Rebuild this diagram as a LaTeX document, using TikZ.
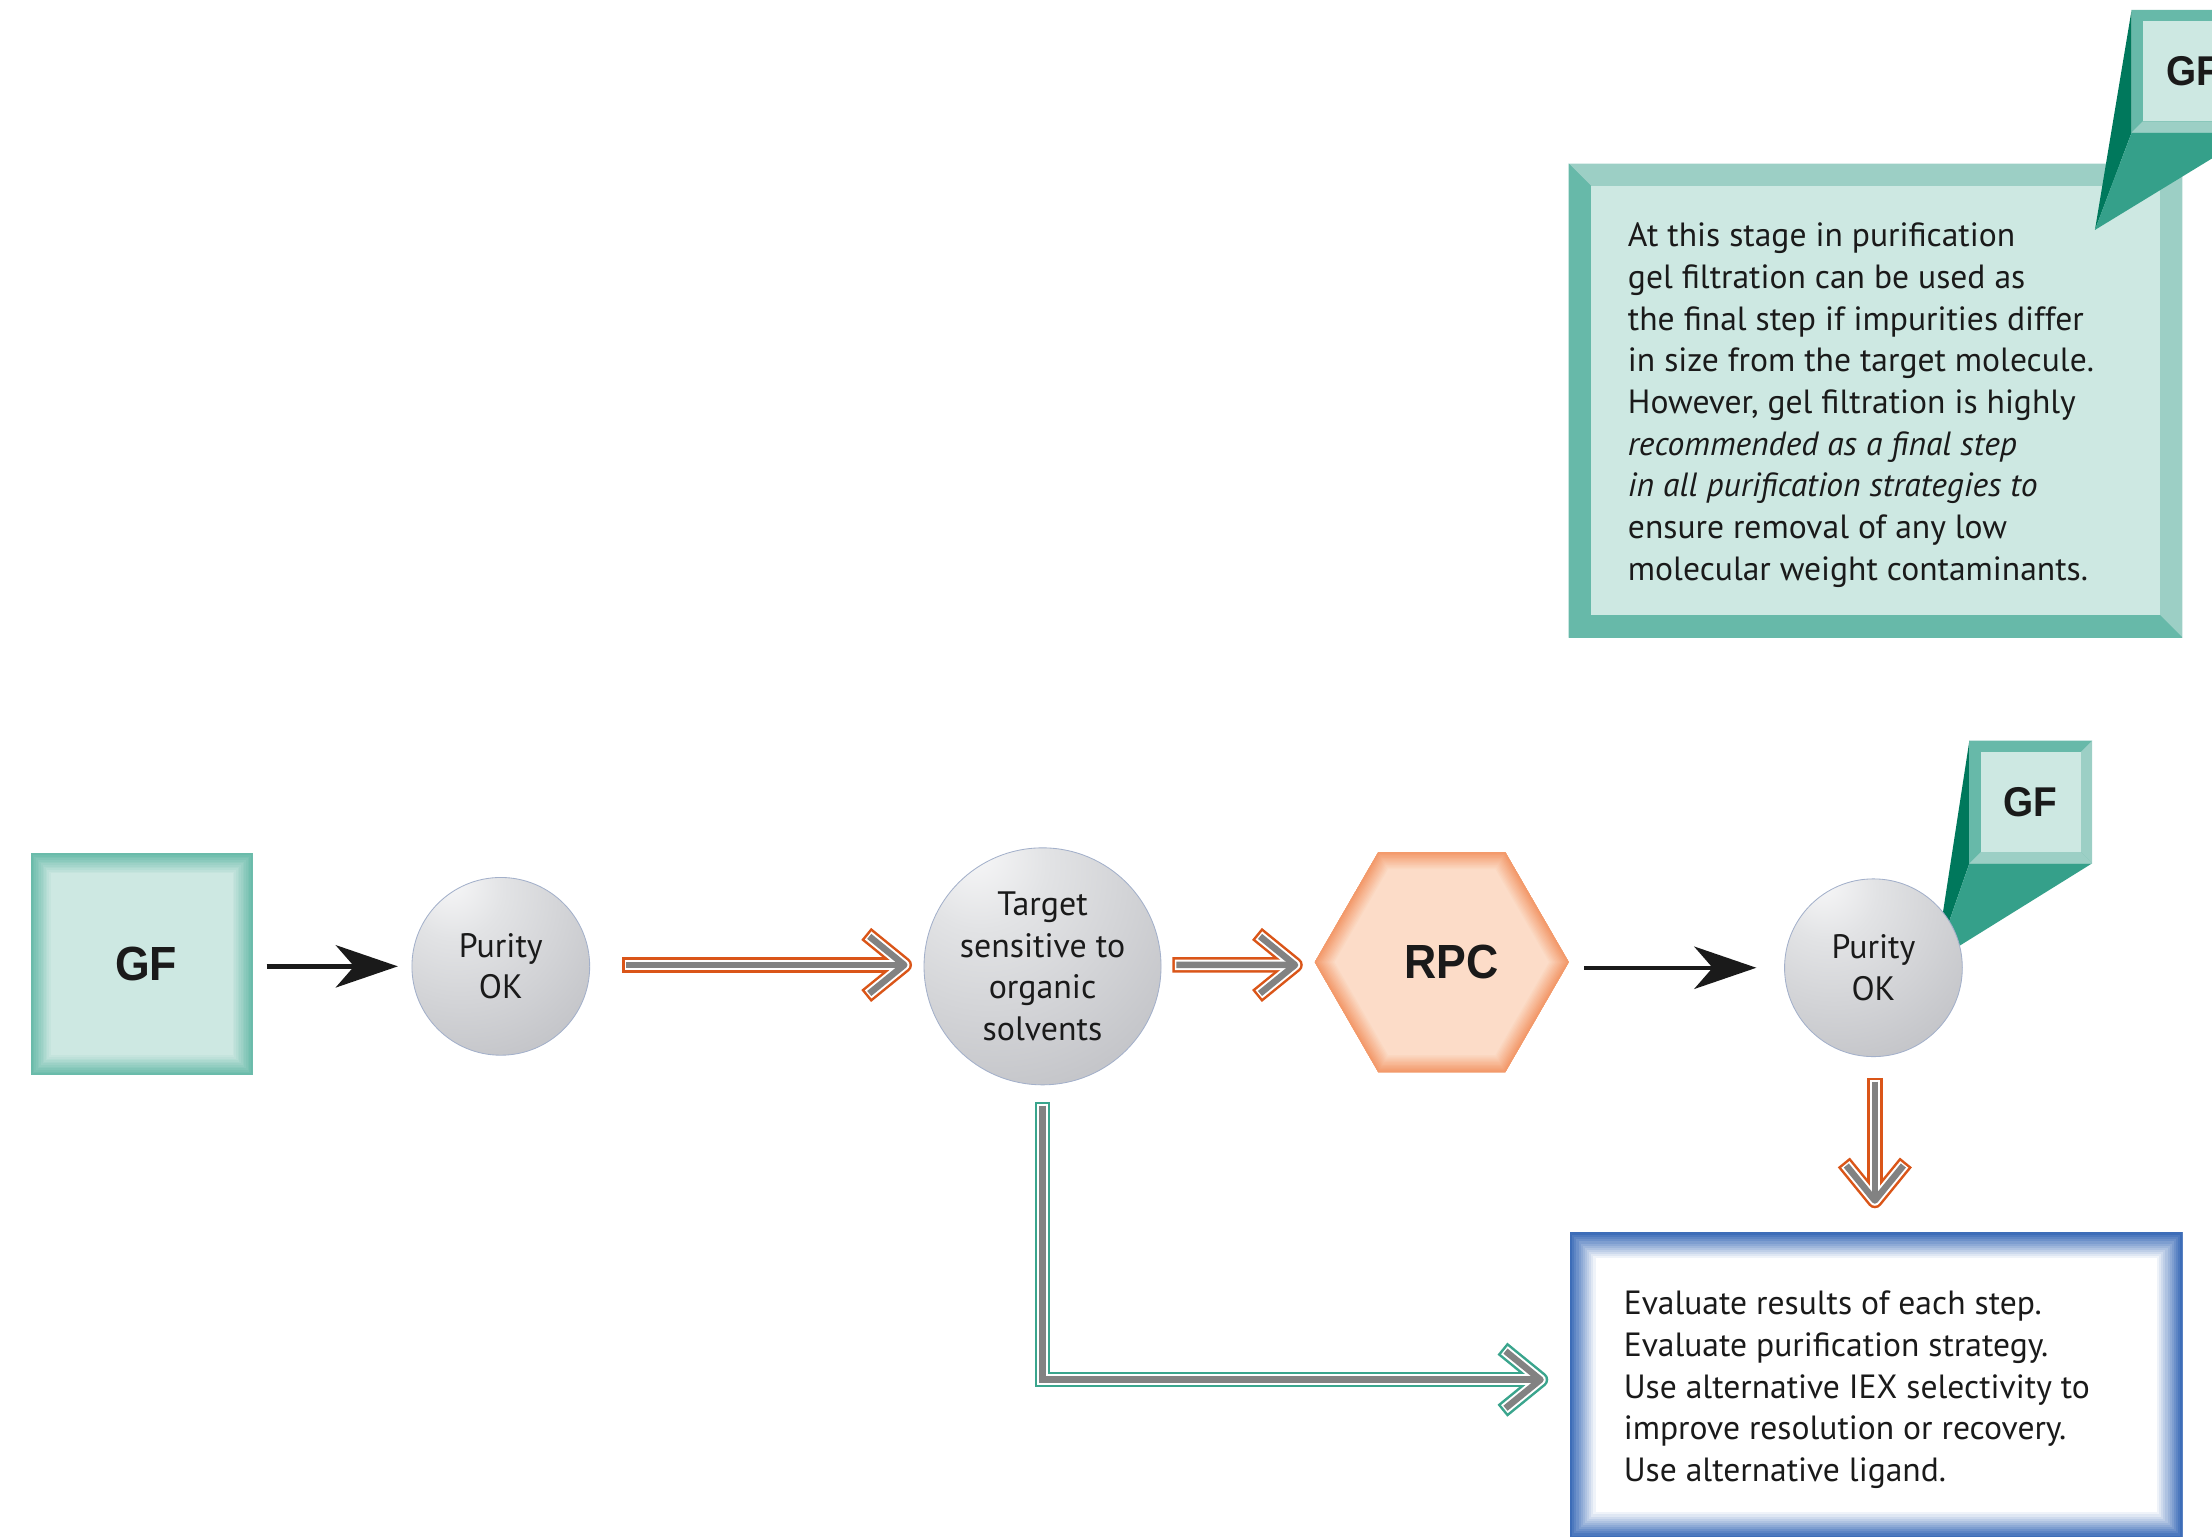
\documentclass[tikz,border=0pt]{standalone}
\usepackage{fontspec}
\usepackage{graphicx}
\setmainfont{PT Sans}
\newfontfamily\labelfont{Liberation Sans}
\usetikzlibrary{arrows.meta,shapes.geometric,calc,backgrounds}
\definecolor{inkc}{HTML}{1A1A1A}
\definecolor{tealface}{HTML}{CDE8E2}
\definecolor{teallight}{HTML}{9CCFC5}
\definecolor{tealmid}{HTML}{67B9A9}
\definecolor{tealdark}{HTML}{00785C}
\definecolor{tealtail}{HTML}{35A08A}
\definecolor{glowteal}{HTML}{6ABBAA}
\definecolor{arrteal}{HTML}{3AA58D}
\definecolor{arrorange}{HTML}{DA5518}
\definecolor{coregray}{HTML}{828282}
\definecolor{hexface}{HTML}{FCDCC8}
\definecolor{hexedge}{HTML}{F39A6B}
\definecolor{blueedge}{HTML}{3D6DB8}
\definecolor{sphline}{HTML}{A3B0CA}
\definecolor{sphA}{HTML}{F8F8F9}
\definecolor{sphB}{HTML}{E2E3E5}
\definecolor{sphC}{HTML}{C5C6CA}
\definecolor{sphD}{HTML}{A2A4A9}
\pgfdeclareradialshading{mysphere}{\pgfpoint{-15bp}{25bp}}{color(0bp)=(sphA); color(14bp)=(sphB); color(42bp)=(sphC); color(76bp)=(sphD); color(110bp)=(sphD)}
\newcommand\gfnarrow[1]{\scalebox{0.93}[1]{#1}}
% soft inner edge glow: #1 path, #2 edge colour, #3 face colour, #4 width
\newcommand\edgeglow[4]{%
  \begin{scope}
    \clip #1;
    \foreach \k in {1,...,12}{%
      \pgfmathsetmacro\lw{2*#4*(13-\k)/12}%
      \pgfmathsetmacro\pc{100*\k/12}%
      \draw[line width=\lw pt, draw=#2!\pc!#3, line join=miter] #1;
    }
  \end{scope}}
% bevelled frame round a node: #1 node, #2 width, #3 top, #4 left, #5 right, #6 bottom, #7 face
\newcommand\bevel[7]{%
  \fill[#4] (#1.north west) rectangle (#1.south east);
  \fill[#3] (#1.north west) -- (#1.north east) -- ($(#1.north east)+(-#2,#2)$) -- ($(#1.north west)+(#2,#2)$) -- cycle;
  \fill[#4] (#1.north west) -- ($(#1.north west)+(#2,#2)$) -- ($(#1.south west)+(#2,-#2)$) -- (#1.south west) -- cycle;
  \fill[#5] (#1.north east) -- (#1.south east) -- ($(#1.south east)+(-#2,-#2)$) -- ($(#1.north east)+(-#2,#2)$) -- cycle;
  \fill[#6] (#1.south west) -- (#1.south east) -- ($(#1.south east)+(-#2,-#2)$) -- ($(#1.south west)+(#2,-#2)$) -- cycle;
  \fill[#7] ($(#1.north west)+(#2,#2)$) rectangle ($(#1.south east)+(-#2,-#2)$);}
% outlined double arrow: #1 colour, #2 shaft path, #3 arm end, #4 apex, #5 arm end
\newcommand\fatarrow[5]{%
  \draw[line width=11pt, draw=#1, line join=miter] #2;
  \draw[line width=11pt, draw=#1, line join=round] #3 -- #4 -- #5;
  \draw[line width=7.4pt, draw=white, line join=miter, shorten <=1.8pt] #2;
  \draw[line width=7.4pt, draw=white, line join=round, shorten <=1.8pt, shorten >=1.8pt] #3 -- #4 -- #5;
  \draw[line width=4.6pt, draw=coregray, line join=miter, shorten <=2.8pt] #2;
  \draw[line width=4.6pt, draw=coregray, line join=round, shorten <=2.8pt, shorten >=2.8pt] #3 -- #4 -- #5;}
\begin{document}
\begin{tikzpicture}[x=1pt,y=-1pt,
  every node/.style={inner sep=0pt,outer sep=0pt},
  bodytext/.style={font=\fontsize{23.8}{29.55}\selectfont, text=inkc, align=left},
  sphere/.style={circle, draw=sphline, line width=0.6pt, shading=mysphere, align=center, font=\fontsize{24}{29.55}\selectfont, text=inkc},
  boldlab/.style={font=\labelfont\bfseries\fontsize{34}{36}\selectfont, text=inkc},
  calllab/.style={font=\labelfont\bfseries\fontsize{29.5}{32}\selectfont, text=inkc, minimum size=87pt},
  blackarrow/.style={draw=inkc, line width=3.2pt, -{Stealth[length=44pt,width=30pt,inset=13pt]}}
]
\useasboundingbox (0,0) rectangle (1568,1089);

% ---------- nodes ----------
\node[boldlab, minimum width=157pt, minimum height=157pt] (gf) at (100.5,683.5) {\hspace*{6pt}\gfnarrow{GF}};
\node[sphere, minimum size=126pt] (p1) at (355,685) {Purity\\OK};
\node[sphere, minimum size=168pt] (tgt) at (739,685) {Target\\sensitive to\\organic\\solvents};
\node[boldlab, regular polygon, regular polygon sides=6, minimum size=180pt] (rpc) at (1022,682) {\hspace*{14pt}\gfnarrow{RPC}};
\node[sphere, minimum size=126pt] (p2) at (1328,686) {Purity\\OK};
\node[calllab] (gf3) at (1439.5,568.5) {\gfnarrow{GF}};
\node[calllab] (gf2) at (1554.5,50.5) {\gfnarrow{GF}};
\coordinate (tip3) at (1372,681);
\coordinate (tip2) at (1485,163);
\node[minimum width=435pt, minimum height=336pt] (notebox) at (1329.5,284) {};
\node[bodytext, anchor=west] (notetext) at (1154,287.2) {At this stage in purification\\
gel filtration can be used as\\
the final step if impurities differ\\
in size from the target molecule.\\
However, gel filtration is highly\\
\textit{recommended as a final step}\\
\textit{in all purification strategies to}\\
ensure removal of any low\\
molecular weight contaminants.};
\node[minimum width=434pt, minimum height=216pt] (evalbox) at (1330,982) {};
\node[bodytext, anchor=west] (evaltext) at (1151,985.3) {Evaluate results of each step.\\
Evaluate purification strategy.\\
Use alternative IEX selectivity to\\
improve resolution or recovery.\\
Use alternative ligand.};

% ---------- backgrounds ----------
\begin{scope}[on background layer]
  \fill[tealface] (gf.south west) rectangle (gf.north east);
  \edgeglow{(gf.south west) rectangle (gf.north east)}{glowteal}{tealface}{14}
  \fill[hexface] (rpc.corner 1) -- (rpc.corner 2) -- (rpc.corner 3) -- (rpc.corner 4) -- (rpc.corner 5) -- (rpc.corner 6) -- cycle;
  \edgeglow{(rpc.corner 1) -- (rpc.corner 2) -- (rpc.corner 3) -- (rpc.corner 4) -- (rpc.corner 5) -- (rpc.corner 6) -- cycle}{hexedge}{hexface}{12}
  \fill[white] (evalbox.south west) rectangle (evalbox.north east);
  \edgeglow{(evalbox.south west) rectangle (evalbox.north east)}{blueedge}{white}{18}
  \bevel{notebox}{16}{teallight}{tealmid}{teallight}{tealmid}{tealface}
  % lower callout
  \fill[tealdark] (gf3.north west) -- (tip3) -- (gf3.south west) -- cycle;
  \fill[tealtail] (gf3.south west) -- (gf3.south east) -- (tip3) -- cycle;
  \bevel{gf3}{8}{tealmid}{tealmid}{teallight}{teallight}{tealface}
  % upper callout
  \fill[tealdark] (gf2.north west) -- (tip2) -- (gf2.south west) -- cycle;
  \fill[tealtail] (gf2.south west) -- (gf2.south east) -- (tip2) -- cycle;
  \bevel{gf2}{8}{tealmid}{tealmid}{teallight}{teallight}{tealface}
\end{scope}

% ---------- connectors ----------
\draw[blackarrow, shorten <=10pt, shorten >=10pt] (gf.east |- p1.west) -- (p1.west);
\draw[blackarrow, shorten <=11pt, shorten >=20pt] (rpc.east |- p2.west) -- (p2.west);

\fatarrow{arrorange}{($(p1.east)+(23,-1)$) -- ($(tgt.west)+(-14,-1)$)}{($(tgt.west)+(-41,-23)$)}{($(tgt.west)+(-14,-1)$)}{($(tgt.west)+(-41,21)$)}
\fatarrow{arrorange}{($(tgt.east)+(8,-1)$) -- ($(rpc.west)+(-14,2)$)}{($(rpc.west)+(-41,-20)$)}{($(rpc.west)+(-14,2)$)}{($(rpc.west)+(-41,24)$)}
\fatarrow{arrteal}{($(tgt.south)+(0,12)$) -- ($(tgt.south |- evalbox.west)+(0,-4)$) -- ($(evalbox.west)+(-21,-4)$)}{($(evalbox.west)+(-48,-26)$)}{($(evalbox.west)+(-21,-4)$)}{($(evalbox.west)+(-48,18)$)}
\fatarrow{arrorange}{($(p2.south)+(1,15)$) -- ($(evalbox.north)+(-1,-23)$)}{($(evalbox.north)+(-23,-50)$)}{($(evalbox.north)+(-1,-23)$)}{($(evalbox.north)+(21,-50)$)}
\end{tikzpicture}
\end{document}
